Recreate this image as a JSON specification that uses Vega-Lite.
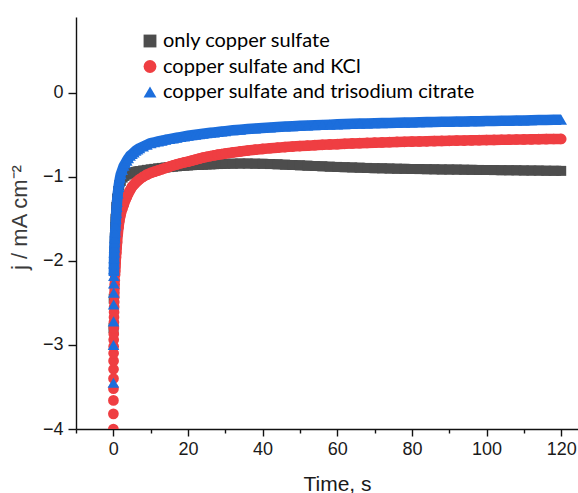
{
  "$schema": "https://vega.github.io/schema/vega-lite/v6.json",
  "width": 502,
  "height": 412,
  "autosize": {"type": "none"},
  "padding": {"left": 76, "top": 17, "right": 0, "bottom": 64},
  "background": "white",
  "config": {
    "view": {"stroke": null},
    "axis": {
      "grid": false,
      "labelFont": "Liberation Sans",
      "labelFontSize": 18,
      "labelColor": "#1a1a1a",
      "titleFont": "Liberation Sans",
      "titleFontSize": 21,
      "titleFontWeight": "normal",
      "titleColor": "#1a1a1a",
      "domainColor": "#111111",
      "domainWidth": 1.4,
      "tickColor": "#111111",
      "tickWidth": 1.4
    },
    "legend": {
      "labelFont": "Lato",
      "labelFontSize": 20,
      "labelColor": "#000000",
      "labelLimit": 0
    }
  },
  "data": {
    "values": [
      {"t": 0.01, "B": -4.0},
      {"t": 0.02, "B": -3.82, "C": -3.45},
      {"t": 0.03, "B": -3.66},
      {"t": 0.04, "B": -3.52, "C": -3.0},
      {"t": 0.05, "A": -2.8, "B": -3.4},
      {"t": 0.06, "B": -3.29, "C": -2.72},
      {"t": 0.07, "B": -3.19},
      {"t": 0.08, "B": -3.1, "C": -2.52},
      {"t": 0.09, "B": -3.02},
      {"t": 0.1, "A": -2.45, "B": -2.94, "C": -2.38},
      {"t": 0.12, "B": -2.87, "C": -2.27},
      {"t": 0.14, "B": -2.8, "C": -2.18},
      {"t": 0.16, "B": -2.73, "C": -2.1},
      {"t": 0.18, "B": -2.67, "C": -2.03},
      {"t": 0.2, "A": -2.1, "B": -2.61, "C": -1.97},
      {"t": 0.22, "B": -2.55},
      {"t": 0.25, "B": -2.49, "C": -1.9},
      {"t": 0.28, "B": -2.43},
      {"t": 0.3, "A": -1.9, "B": -2.38, "C": -1.84},
      {"t": 0.33, "B": -2.33},
      {"t": 0.35, "C": -1.78},
      {"t": 0.36, "B": -2.28},
      {"t": 0.4, "A": -1.72, "B": -2.23, "C": -1.73},
      {"t": 0.45, "B": -2.17},
      {"t": 0.5, "A": -1.6, "B": -2.12, "C": -1.66},
      {"t": 0.55, "B": -2.07},
      {"t": 0.6, "A": -1.5, "B": -2.03, "C": -1.58},
      {"t": 0.7, "B": -1.96, "C": -1.5},
      {"t": 0.8, "A": -1.36, "B": -1.9, "C": -1.43},
      {"t": 0.9, "B": -1.84, "C": -1.36},
      {"t": 1.0, "A": -1.26, "B": -1.78, "C": -1.3},
      {"t": 1.2, "B": -1.68, "C": -1.2},
      {"t": 1.3, "A": -1.17},
      {"t": 1.4, "B": -1.6, "C": -1.12},
      {"t": 1.6, "A": -1.1, "B": -1.53, "C": -1.06},
      {"t": 1.8, "B": -1.48, "C": -1.01},
      {"t": 2.0, "A": -1.05, "B": -1.44, "C": -0.97},
      {"t": 2.4, "B": -1.38, "C": -0.92},
      {"t": 2.5, "A": -1.01},
      {"t": 2.8, "B": -1.33, "C": -0.87},
      {"t": 3.0, "A": -0.99},
      {"t": 3.2, "B": -1.28, "C": -0.84},
      {"t": 3.5, "A": -0.975},
      {"t": 3.6, "B": -1.24, "C": -0.81},
      {"t": 4, "A": -0.965, "B": -1.2, "C": -0.78},
      {"t": 4.5, "A": -0.958, "B": -1.16, "C": -0.75},
      {"t": 5, "A": -0.952, "B": -1.12, "C": -0.73},
      {"t": 5.5, "A": -0.947, "B": -1.095, "C": -0.71},
      {"t": 6, "A": -0.942, "B": -1.07, "C": -0.69},
      {"t": 6.5, "A": -0.937, "B": -1.05, "C": -0.675},
      {"t": 7, "A": -0.933, "B": -1.03, "C": -0.66},
      {"t": 8, "A": -0.925, "B": -1.0, "C": -0.64},
      {"t": 9, "A": -0.918, "B": -0.975, "C": -0.62},
      {"t": 10, "A": -0.912, "B": -0.955, "C": -0.6},
      {"t": 11, "A": -0.906, "B": -0.94, "C": -0.59},
      {"t": 12, "A": -0.9, "B": -0.925, "C": -0.58},
      {"t": 13, "A": -0.895, "B": -0.91, "C": -0.57},
      {"t": 14, "A": -0.89, "B": -0.895, "C": -0.56},
      {"t": 15, "A": -0.885, "B": -0.88, "C": -0.552},
      {"t": 16, "A": -0.88, "B": -0.866, "C": -0.544},
      {"t": 17, "A": -0.876, "B": -0.853, "C": -0.536},
      {"t": 18, "A": -0.872, "B": -0.84, "C": -0.528},
      {"t": 19, "A": -0.868, "B": -0.83, "C": -0.52},
      {"t": 20, "A": -0.865, "B": -0.82, "C": -0.513},
      {"t": 21, "A": -0.862, "B": -0.808, "C": -0.506},
      {"t": 22, "A": -0.86, "B": -0.796, "C": -0.5},
      {"t": 23, "A": -0.858, "B": -0.784, "C": -0.494},
      {"t": 24, "A": -0.856, "B": -0.773, "C": -0.488},
      {"t": 25, "A": -0.854, "B": -0.763, "C": -0.482},
      {"t": 26, "A": -0.852, "B": -0.754, "C": -0.477},
      {"t": 27, "A": -0.85, "B": -0.746, "C": -0.472},
      {"t": 28, "A": -0.849, "B": -0.738, "C": -0.467},
      {"t": 29, "A": -0.847, "B": -0.731, "C": -0.462},
      {"t": 30, "A": -0.846, "B": -0.724, "C": -0.457},
      {"t": 32, "A": -0.844, "B": -0.711, "C": -0.448},
      {"t": 34, "A": -0.843, "B": -0.699, "C": -0.44},
      {"t": 36, "A": -0.843, "B": -0.688, "C": -0.433},
      {"t": 38, "A": -0.844, "B": -0.678, "C": -0.426},
      {"t": 40, "A": -0.846, "B": -0.669, "C": -0.42},
      {"t": 42, "A": -0.849, "B": -0.661, "C": -0.414},
      {"t": 44, "A": -0.852, "B": -0.654, "C": -0.408},
      {"t": 46, "A": -0.856, "B": -0.647, "C": -0.403},
      {"t": 48, "A": -0.86, "B": -0.641, "C": -0.398},
      {"t": 50, "A": -0.864, "B": -0.635, "C": -0.394},
      {"t": 52, "A": -0.868, "B": -0.63, "C": -0.39},
      {"t": 54, "A": -0.872, "B": -0.625, "C": -0.386},
      {"t": 56, "A": -0.876, "B": -0.62, "C": -0.383},
      {"t": 58, "A": -0.88, "B": -0.616, "C": -0.38},
      {"t": 60, "A": -0.883, "B": -0.612, "C": -0.377},
      {"t": 62, "A": -0.886, "B": -0.608, "C": -0.374},
      {"t": 64, "A": -0.889, "B": -0.604, "C": -0.371},
      {"t": 66, "A": -0.892, "B": -0.601, "C": -0.368},
      {"t": 68, "A": -0.895, "B": -0.598, "C": -0.366},
      {"t": 70, "A": -0.898, "B": -0.595, "C": -0.364},
      {"t": 72, "A": -0.9, "B": -0.592, "C": -0.362},
      {"t": 74, "A": -0.902, "B": -0.589, "C": -0.36},
      {"t": 76, "A": -0.904, "B": -0.586, "C": -0.358},
      {"t": 78, "A": -0.906, "B": -0.584, "C": -0.356},
      {"t": 80, "A": -0.908, "B": -0.582, "C": -0.354},
      {"t": 82, "A": -0.909, "B": -0.58, "C": -0.352},
      {"t": 84, "A": -0.91, "B": -0.578, "C": -0.35},
      {"t": 86, "A": -0.912, "B": -0.576, "C": -0.348},
      {"t": 88, "A": -0.913, "B": -0.574, "C": -0.346},
      {"t": 90, "A": -0.914, "B": -0.572, "C": -0.345},
      {"t": 92, "A": -0.915, "B": -0.57, "C": -0.343},
      {"t": 94, "A": -0.916, "B": -0.569, "C": -0.342},
      {"t": 96, "A": -0.918, "B": -0.567, "C": -0.34},
      {"t": 98, "A": -0.919, "B": -0.565, "C": -0.339},
      {"t": 100, "A": -0.92, "B": -0.563, "C": -0.337},
      {"t": 102, "A": -0.921, "B": -0.562, "C": -0.336},
      {"t": 104, "A": -0.922, "B": -0.56, "C": -0.334},
      {"t": 106, "A": -0.923, "B": -0.559, "C": -0.333},
      {"t": 108, "A": -0.924, "B": -0.557, "C": -0.331},
      {"t": 110, "A": -0.925, "B": -0.556, "C": -0.33},
      {"t": 112, "A": -0.926, "B": -0.555, "C": -0.328},
      {"t": 114, "A": -0.927, "B": -0.553, "C": -0.326},
      {"t": 116, "A": -0.928, "B": -0.552, "C": -0.325},
      {"t": 118, "A": -0.929, "B": -0.551, "C": -0.323},
      {"t": 120, "A": -0.93, "B": -0.55, "C": -0.321}
    ]
  },
  "transform": [
    {"fold": ["A", "B", "C"], "as": ["s", "j"]},
    {"filter": "isValid(datum.j)"}
  ],
  "encoding": {
    "x": {
      "field": "t", "type": "quantitative",
      "scale": {"domain": [-10, 124.5], "nice": false, "zero": false},
      "axis": {
        "title": "Time, s",
        "values": [-10, 0, 10, 20, 30, 40, 50, 60, 70, 80, 90, 100, 110, 120],
        "format": "d",
        "labelExpr": "datum.value % 20 === 0 ? datum.label : ''",
        "tickSize": {"condition": {"test": "datum.value % 20 === 0", "value": 7}, "value": 4},
        "labelPadding": 4,
        "titleX": 261,
        "titleY": 61,
        "titleBaseline": "alphabetic"
      }
    },
    "y": {
      "field": "j", "type": "quantitative",
      "scale": {"domain": [-4, 0.9], "nice": false, "zero": false},
      "axis": {
        "title": "j / mA cm\u207B\u00B2",
        "values": [-4, -3.5, -3, -2.5, -2, -1.5, -1, -0.5, 0, 0.5],
        "format": "d",
        "labelExpr": "datum.value % 1 === 0 ? datum.label : ''",
        "tickSize": {"condition": {"test": "datum.value % 1 === 0", "value": 8}, "value": 4},
        "labelPadding": 5,
        "titleColor": "#3a3a3a",
        "titleFontSize": 22,
        "titleX": -57,
        "titleY": 200,
        "titleBaseline": "middle",
        "titleAngle": -90
      }
    }
  },
  "layer": [
    {
      "transform": [{"filter": "datum.s === 'A'"}],
      "layer": [
        {
          "transform": [{"filter": "datum.j > -2.2"}],
          "mark": {"type": "line", "strokeWidth": 10, "strokeCap": "butt", "strokeJoin": "round", "clip": true, "color": "#4d4d4d"},
          "encoding": {"order": {"field": "t", "type": "quantitative"}}
        },
        {
          "mark": {"type": "point", "filled": true, "opacity": 1, "size": 100, "clip": true},
          "encoding": {
            "color": {"field": "s", "type": "nominal", "scale": {"domain": ["A", "B", "C"], "range": ["#4d4d4d", "#ef3e42", "#1c6edc"]}},
            "shape": {"field": "s", "type": "nominal", "scale": {"domain": ["A", "B", "C"], "range": ["square", "circle", "triangle-up"]}}
          }
        }
      ]
    },
    {
      "transform": [{"filter": "datum.s === 'B'"}],
      "layer": [
        {
          "transform": [{"filter": "datum.j > -2.2"}],
          "mark": {"type": "line", "strokeWidth": 10.5, "strokeCap": "butt", "strokeJoin": "round", "clip": true, "color": "#ef3e42"},
          "encoding": {"order": {"field": "t", "type": "quantitative"}}
        },
        {
          "mark": {"type": "point", "filled": true, "opacity": 1, "size": 115, "clip": true},
          "encoding": {
            "color": {"field": "s", "type": "nominal", "scale": {"domain": ["A", "B", "C"], "range": ["#4d4d4d", "#ef3e42", "#1c6edc"]}},
            "shape": {"field": "s", "type": "nominal", "scale": {"domain": ["A", "B", "C"], "range": ["square", "circle", "triangle-up"]}}
          }
        }
      ]
    },
    {
      "transform": [{"filter": "datum.s === 'C'"}],
      "layer": [
        {
          "transform": [{"filter": "datum.j > -2.2"}],
          "mark": {"type": "line", "strokeWidth": 10.5, "strokeCap": "butt", "strokeJoin": "round", "clip": true, "color": "#1c6edc"},
          "encoding": {"order": {"field": "t", "type": "quantitative"}}
        },
        {
          "mark": {"type": "point", "filled": true, "opacity": 1, "size": 135, "clip": true},
          "encoding": {
            "color": {
              "field": "s", "type": "nominal",
              "scale": {"domain": ["A", "B", "C"], "range": ["#4d4d4d", "#ef3e42", "#1c6edc"]},
              "legend": {
                "title": null,
                "orient": "none",
                "legendX": 64,
                "legendY": 14,
                "symbolSize": 165,
                "symbolStrokeWidth": 0,
                "labelOffset": 3,
                "rowPadding": 5.5,
                "padding": 0,
                "labelLimit": 0,
                "labelExpr": "datum.value === 'A' ? 'only copper sulfate' : datum.value === 'B' ? 'copper sulfate and KCl' : 'copper sulfate and trisodium citrate'",
                "encode": {
                  "symbols": {
                    "fill": {"signal": "datum.value === 'A' ? '#000000' : datum.value === 'B' ? '#ff0a0a' : '#0a0aff'"}
                  }
                }
              }
            },
            "shape": {
              "field": "s", "type": "nominal",
              "scale": {"domain": ["A", "B", "C"], "range": ["square", "circle", "triangle-up"]},
              "legend": {
                "title": null,
                "orient": "none",
                "legendX": 64,
                "legendY": 14,
                "symbolSize": 165,
                "symbolStrokeWidth": 0,
                "labelOffset": 3,
                "rowPadding": 5.5,
                "padding": 0,
                "labelLimit": 0,
                "labelExpr": "datum.value === 'A' ? 'only copper sulfate' : datum.value === 'B' ? 'copper sulfate and KCl' : 'copper sulfate and trisodium citrate'",
                "encode": {
                  "symbols": {
                    "fill": {"signal": "datum.value === 'A' ? '#000000' : datum.value === 'B' ? '#ff0a0a' : '#0a0aff'"}
                  }
                }
              }
            }
          }
        }
      ]
    }
  ]
}
